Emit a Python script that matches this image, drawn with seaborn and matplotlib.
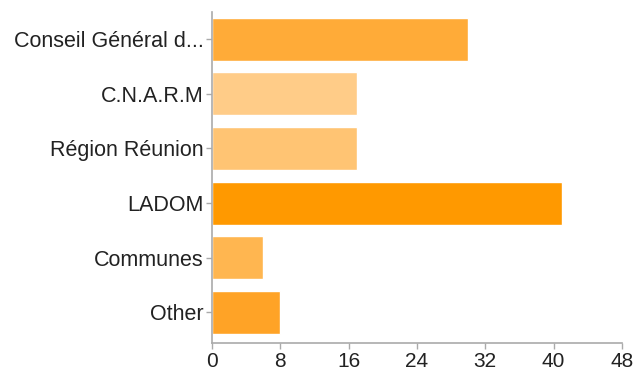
import matplotlib
matplotlib.use("Agg")
import matplotlib.pyplot as plt
import seaborn as sns
import pandas as pd

categories = ["Conseil Général d...", "C.N.A.R.M", "Région Réunion", "LADOM", "Communes", "Other"]
values = [30, 17, 17, 41, 6, 8]
colors = ["#FFAB38", "#FFCC88", "#FFC473", "#FF9900", "#FFB650", "#FFA326"]
xticks = [0, 8, 16, 24, 32, 40, 48]

df = pd.DataFrame({"category": categories, "value": values})

sns.set_style("white")
plt.rcParams["font.family"] = ["Liberation Sans", "DejaVu Sans"]

fig = plt.figure(figsize=(6.36, 3.72), dpi=100)
ax = fig.add_axes([0.333, 0.078, 0.645, 0.89])
sns.barplot(data=df, y="category", x="value", hue="category",
            palette=dict(zip(categories, colors)), order=categories,
            orient="h", width=0.79, saturation=1, legend=False, ax=ax)

ax.set_xlim(0, 48)
ax.set_ylim(5.56, -0.5)
ax.set_xticks(xticks)
ax.set_xticklabels([str(t) for t in xticks])
ax.set_xlabel("")
ax.set_ylabel("")
for s in ["top", "right"]:
    ax.spines[s].set_visible(False)
for s in ["left", "bottom"]:
    ax.spines[s].set_color("#aaaaaa")
    ax.spines[s].set_linewidth(1.2)
ax.tick_params(axis="both", which="both", length=4, width=1, color="#aaaaaa",
               labelsize=15.5, labelcolor="#222222", direction="out")
ax.tick_params(axis="y", left=True, pad=2)
ax.tick_params(axis="x", bottom=True, pad=2.5, labelsize=15)

fig.savefig("out.png", dpi=100)
